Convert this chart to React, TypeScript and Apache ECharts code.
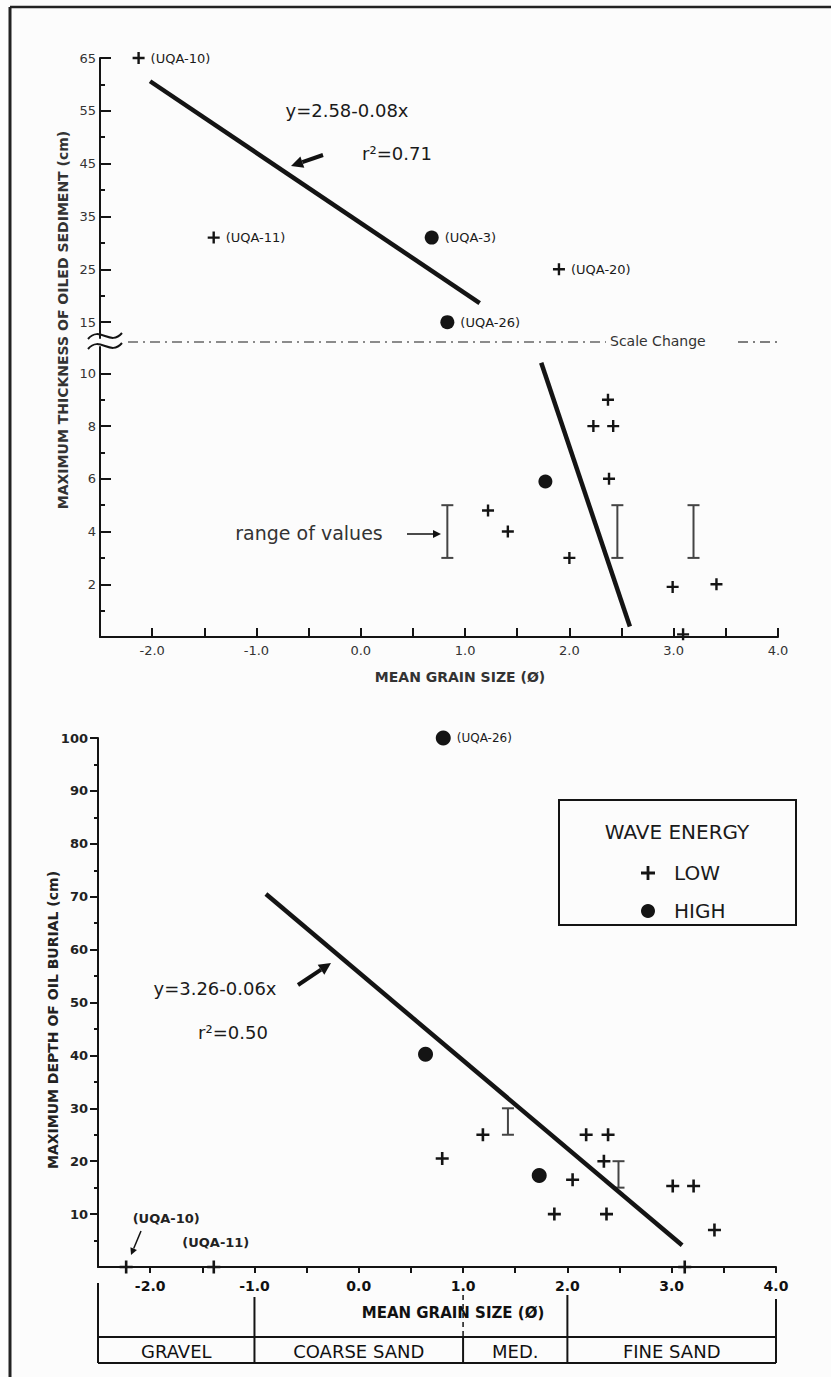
import React, { useEffect, useRef } from 'react';
import * as echarts from 'echarts';

// ---------------- DATA ----------------
// axis ticks / labels
const grainTicks = [-2, -1.5, -1, -0.5, 0, 0.5, 1, 1.5, 2, 2.5, 3, 3.5, 4];
const grainLabels = [-2, -1, 0, 1, 2, 3, 4];
const thickUpperTicks = [15, 25, 35, 45, 55, 65];
const thickUpperMinor = [20, 30, 40, 50, 60];
const thickLowerTicks = [2, 4, 6, 8, 10];
const thickLowerMinor = [1, 3, 5, 7, 9];
const burialTicks = [10, 20, 30, 40, 50, 60, 70, 80, 90, 100];
const burialMinor = [5, 15, 25, 35, 45, 55, 65, 75, 85, 95];

// Top panel: maximum thickness of oiled sediment (cm) — upper scale
const thickUpperLow = [[-2.13, 65], [-1.41, 31], [1.9, 25]];
const thickUpperLowTags = ['(UQA-10)', '(UQA-11)', '(UQA-20)'];
const thickUpperHigh = [[0.68, 31], [0.83, 15]];
const thickUpperHighTags = ['(UQA-3)', '(UQA-26)'];
const thickUpperFit = [[-2.02, 60.6], [1.14, 18.6]];

// Top panel — lower scale
const thickLowerLow = [
  [2.37, 9], [2.23, 8], [2.42, 8], [2.38, 6], [1.22, 4.8], [1.41, 4.0],
  [2.0, 3], [2.99, 1.9], [3.41, 2.0], [3.09, 0.1],
];
const thickLowerHigh = [[1.77, 5.9]];
const thickLowerRanges = [[0.83, 3, 5], [2.46, 3, 5], [3.19, 3, 5]];
const thickLowerFit = [[1.73, 10.4], [2.58, 0.4]];

// Bottom panel: maximum depth of oil burial (cm)
const burialLow = [
  [0.8, 20.5], [1.19, 25], [2.18, 25], [2.39, 25], [2.35, 20], [2.05, 16.5],
  [1.875, 10], [2.375, 10], [3.01, 15.3], [3.21, 15.3], [3.41, 7], [3.125, 0],
  [-2.23, 0], [-1.39, 0],
];
const burialLowTags = ['', '', '', '', '', '', '', '', '', '', '', '', '(UQA-10)', '(UQA-11)'];
const burialHigh = [[0.81, 100], [0.64, 40.2], [1.73, 17.3]];
const burialHighTags = ['(UQA-26)', '', ''];
const burialRanges = [[1.43, 25, 30], [2.49, 15, 20]];
const burialFit = [[-0.89, 70.5], [3.1, 4.1]];

// Grain-size classes
const sizeClassBounds = [-2.5, -1, 1, 2, 4];
const sizeClassNames = ['GRAVEL', 'COARSE SAND', 'MED.', 'FINE SAND'];

// ---------------- STYLE ----------------
const FONT = '"DejaVu Sans", sans-serif';
const INK = '#141414';
const GREY = '#333';
const PLUS = 'path://M4,0H6V4H10V6H6V10H4V6H0V4H4Z';

const items = (pts: number[][], tags?: string[]) =>
  pts.map((p, i) => ({ value: p, name: tags ? tags[i] : '' }));

const rangeRender = (_params: any, api: any) => {
  const x = api.value(0), lo = api.value(1), hi = api.value(2);
  const a = api.coord([x, lo]);
  const b = api.coord([x, hi]);
  const w = 6;
  const st = { stroke: '#444', lineWidth: 2 };
  return {
    type: 'group',
    children: [
      { type: 'line', shape: { x1: a[0], y1: a[1], x2: b[0], y2: b[1] }, style: st },
      { type: 'line', shape: { x1: a[0] - w, y1: a[1], x2: a[0] + w, y2: a[1] }, style: st },
      { type: 'line', shape: { x1: b[0] - w, y1: b[1], x2: b[0] + w, y2: b[1] }, style: st },
    ],
  };
};

const ptLabel = {
  show: true,
  position: 'right',
  distance: 6,
  formatter: '{b}',
  fontSize: 13,
  color: '#1a1a1a',
  fontFamily: FONT,
};

const markStyle = { color: INK, opacity: 1 };

function txt(x: number, y: number, text: string, size: number, extra: any = {}) {
  return {
    type: 'text',
    x,
    y,
    rotation: extra.rotation || 0,
    style: {
      text,
      fontSize: size,
      fontFamily: FONT,
      fontWeight: extra.weight || 'normal',
      fill: extra.fill || '#1a1a1a',
      align: extra.align || 'center',
      textAlign: extra.align || 'center',
      verticalAlign: 'middle',
      textVerticalAlign: 'middle',
    },
  };
}

function arrow(x1: number, y1: number, x2: number, y2: number, w: number, head: number) {
  const dx = x2 - x1, dy = y2 - y1;
  const L = Math.hypot(dx, dy);
  const ux = dx / L, uy = dy / L;
  const bx = x2 - ux * head, by = y2 - uy * head;
  const nx = -uy, ny = ux;
  const hw = head * 0.5;
  return [
    { type: 'line', shape: { x1, y1, x2: bx, y2: by }, style: { stroke: '#111', lineWidth: w } },
    {
      type: 'polygon',
      shape: { points: [[x2, y2], [bx + nx * hw, by + ny * hw], [bx - nx * hw, by - ny * hw]] },
      style: { fill: '#111' },
    },
  ];
}

function valueYAxis(grid: number, min: number, max: number, ticks: number[], opts: any) {
  return {
    type: 'value',
    gridIndex: grid,
    position: 'left',
    min,
    max,
    axisLine: { show: opts.line !== false, onZero: false, lineStyle: { color: INK, width: 2 } },
    axisTick: {
      show: true,
      inside: opts.inside,
      length: opts.len,
      customValues: ticks,
      lineStyle: { color: INK, width: 2 },
    },
    axisLabel: opts.labels
      ? {
          show: true,
          customValues: ticks,
          margin: opts.margin,
          fontSize: opts.fontSize,
          fontWeight: opts.weight || 'normal',
          color: opts.color || GREY,
          fontFamily: FONT,
        }
      : { show: false },
    splitLine: { show: false },
  };
}

function grainXAxis(grid: number, show: boolean, opts: any = {}) {
  return {
    type: 'value',
    gridIndex: grid,
    show,
    min: -2.5,
    max: 4,
    axisLine: { show: true, onZero: false, lineStyle: { color: INK, width: 2 } },
    axisTick: {
      show: true,
      inside: opts.inside,
      length: opts.len,
      customValues: grainTicks,
      lineStyle: { color: INK, width: 2 },
    },
    axisLabel: {
      customValues: grainLabels,
      formatter: (v: number) => v.toFixed(1),
      margin: opts.margin,
      fontSize: opts.fontSize,
      fontWeight: opts.weight || 'normal',
      color: opts.color || GREY,
      fontFamily: FONT,
    },
    splitLine: { show: false },
  };
}

export default function App() {
  const ref = useRef<HTMLDivElement>(null);

  useEffect(() => {
    if (!ref.current) return;
    const chart = echarts.init(ref.current, undefined, { renderer: 'svg' });

    const option: any = {
      animation: false,
      backgroundColor: '#fcfcfc',
      grid: [
        { left: 100, top: 58, width: 678, height: 280, outerBoundsMode: 'none' },
        { left: 100, top: 347, width: 678, height: 290, outerBoundsMode: 'none' },
        { left: 98, top: 738, width: 678, height: 529, outerBoundsMode: 'none' },
      ],
      xAxis: [
        grainXAxis(0, false),
        grainXAxis(1, true, { inside: true, len: 9, margin: 7, fontSize: 13 }),
        grainXAxis(2, true, { inside: false, len: 6, margin: 12, fontSize: 14, weight: 'bold', color: '#111' }),
      ],
      yAxis: [
        valueYAxis(0, 12, 65, thickUpperTicks, { inside: true, len: 11, labels: true, margin: 4, fontSize: 13 }),
        valueYAxis(0, 12, 65, thickUpperMinor, { inside: true, len: 5, line: false }),
        valueYAxis(1, 0, 11, thickLowerTicks, { inside: true, len: 11, labels: true, margin: 4, fontSize: 13 }),
        valueYAxis(1, 0, 11, thickLowerMinor, { inside: true, len: 5, line: false }),
        valueYAxis(2, 0, 100, burialTicks, { inside: false, len: 8, labels: true, margin: 10, fontSize: 13, weight: 'bold', color: '#222' }),
        valueYAxis(2, 0, 100, burialMinor, { inside: false, len: 4, line: false }),
      ],
      legend: {
        show: true,
        selectedMode: false,
        orient: 'vertical',
        left: 636,
        top: 858,
        itemWidth: 14,
        itemHeight: 14,
        itemGap: 18,
        data: [
          { name: 'LOW', icon: PLUS },
          { name: 'HIGH', icon: 'circle' },
        ],
        textStyle: { fontSize: 20, color: '#1a1a1a', fontFamily: FONT, padding: [0, 0, 0, 14] },
      },
      series: [
        // top panel, upper scale
        {
          name: 'LOW', type: 'scatter', xAxisIndex: 0, yAxisIndex: 0, clip: false,
          symbol: PLUS, symbolSize: 12, itemStyle: markStyle,
          data: items(thickUpperLow, thickUpperLowTags), label: ptLabel,
        },
        {
          name: 'HIGH', type: 'scatter', xAxisIndex: 0, yAxisIndex: 0, clip: false,
          symbol: 'circle', symbolSize: 14, itemStyle: markStyle,
          data: items(thickUpperHigh, thickUpperHighTags), label: ptLabel,
        },
        {
          name: 'fit-upper', type: 'line', xAxisIndex: 0, yAxisIndex: 0, symbol: 'none',
          lineStyle: { color: INK, width: 4.5 }, data: thickUpperFit,
        },
        // top panel, lower scale
        {
          name: 'LOW', type: 'scatter', xAxisIndex: 1, yAxisIndex: 2, clip: false,
          symbol: PLUS, symbolSize: 12, itemStyle: markStyle,
          data: items(thickLowerLow),
        },
        {
          name: 'HIGH', type: 'scatter', xAxisIndex: 1, yAxisIndex: 2, clip: false,
          symbol: 'circle', symbolSize: 14, itemStyle: markStyle,
          data: items(thickLowerHigh),
        },
        {
          name: 'range-top', type: 'custom', xAxisIndex: 1, yAxisIndex: 2, clip: false,
          renderItem: rangeRender, encode: { x: 0, y: [1, 2] }, data: thickLowerRanges,
        },
        {
          name: 'fit-lower', type: 'line', xAxisIndex: 1, yAxisIndex: 2, symbol: 'none',
          lineStyle: { color: INK, width: 4.5 }, data: thickLowerFit,
        },
        // bottom panel
        {
          name: 'LOW', type: 'scatter', xAxisIndex: 2, yAxisIndex: 4, clip: false,
          symbol: PLUS, symbolSize: 13, itemStyle: markStyle,
          data: burialLow.map((p, i) => {
            const tag = burialLowTags[i];
            const it: any = { value: p, name: tag };
            if (tag) {
              it.label = {
                show: true, position: 'top', formatter: '{b}',
                offset: tag === '(UQA-10)' ? [40, -31] : [2, -7],
                fontSize: 13, fontWeight: 'bold', color: '#222', fontFamily: FONT,
              };
            }
            return it;
          }),
        },
        {
          name: 'HIGH', type: 'scatter', xAxisIndex: 2, yAxisIndex: 4, clip: false,
          symbol: 'circle', symbolSize: 15, itemStyle: markStyle,
          data: items(burialHigh, burialHighTags), label: { ...ptLabel, fontSize: 12 },
        },
        {
          name: 'range-bottom', type: 'custom', xAxisIndex: 2, yAxisIndex: 4, clip: false,
          renderItem: rangeRender, encode: { x: 0, y: [1, 2] }, data: burialRanges,
        },
        {
          name: 'fit-burial', type: 'line', xAxisIndex: 2, yAxisIndex: 4, symbol: 'none',
          lineStyle: { color: INK, width: 4.5 }, data: burialFit,
        },
      ],
    };

    chart.setOption(option);

    // ---- graphics positioned from axis scales / fixed annotation layout ----
    const px = (v: number) => chart.convertToPixel({ xAxisIndex: 2 } as any, v) as number;
    const axisY = chart.convertToPixel({ yAxisIndex: 4 } as any, 0) as number;
    const rowTop = axisY + 70;
    const rowBot = axisY + 96;
    const startOff = [16, 30, 28, 28, 32];
    const g: any[] = [];

    // page frame
    g.push({ type: 'line', shape: { x1: 10, y1: 7, x2: 831, y2: 7 }, style: { stroke: '#222', lineWidth: 2.5 } });
    g.push({ type: 'line', shape: { x1: 10, y1: 7, x2: 10, y2: 1377 }, style: { stroke: '#222', lineWidth: 3 } });

    // grain-size class table
    const xL = px(sizeClassBounds[0]);
    const xR = px(sizeClassBounds[sizeClassBounds.length - 1]);
    g.push({ type: 'line', shape: { x1: xL, y1: rowTop, x2: xR, y2: rowTop }, style: { stroke: INK, lineWidth: 2 } });
    g.push({ type: 'line', shape: { x1: xL, y1: rowBot, x2: xR, y2: rowBot }, style: { stroke: INK, lineWidth: 2 } });
    sizeClassBounds.forEach((b, i) => {
      const x = px(b);
      if (i === 2) {
        g.push({ type: 'line', shape: { x1: x, y1: axisY + startOff[i], x2: x, y2: rowTop }, style: { stroke: INK, lineWidth: 1.5, lineDash: [5, 4] } });
        g.push({ type: 'line', shape: { x1: x, y1: rowTop, x2: x, y2: rowBot }, style: { stroke: INK, lineWidth: 2 } });
      } else {
        g.push({ type: 'line', shape: { x1: x, y1: axisY + startOff[i], x2: x, y2: rowBot }, style: { stroke: INK, lineWidth: 2 } });
      }
    });
    sizeClassNames.forEach((n, i) => {
      const cx = (px(sizeClassBounds[i]) + px(sizeClassBounds[i + 1])) / 2;
      g.push(txt(cx, (rowTop + rowBot) / 2 + 1, n, 18, { fill: '#111' }));
    });

    // axis titles
    g.push(txt(63, 320, 'MAXIMUM THICKNESS OF OILED SEDIMENT (cm)', 14, { rotation: Math.PI / 2, weight: 'bold', fill: '#333' }));
    g.push(txt(460, 677, 'MEAN GRAIN SIZE (Ø)', 14, { weight: 'bold', fill: '#333' }));
    g.push(txt(53, 1020, 'MAXIMUM DEPTH OF OIL BURIAL (cm)', 14, { rotation: Math.PI / 2, weight: 'bold', fill: '#222' }));
    g.push(txt(453, 1313, 'MEAN GRAIN SIZE (Ø)', 15, { weight: 'bold', fill: '#111' }));

    // top annotations
    g.push(txt(347, 110, 'y=2.58-0.08x', 18));
    g.push(txt(397, 153, 'r²=0.71', 18));
    g.push(...arrow(323, 155, 291, 166, 4, 12));
    g.push(txt(309, 533, 'range of values', 19, { fill: '#333' }));
    g.push(...arrow(407, 534, 441, 534, 1.5, 8));

    // scale break
    g.push({ type: 'bezierCurve', shape: { x1: 88, y1: 339, x2: 122, y2: 333, cpx1: 100, cpy1: 325, cpx2: 110, cpy2: 347 }, style: { stroke: INK, lineWidth: 2, fill: 'none' } });
    g.push({ type: 'bezierCurve', shape: { x1: 88, y1: 349, x2: 122, y2: 343, cpx1: 100, cpy1: 335, cpx2: 110, cpy2: 357 }, style: { stroke: INK, lineWidth: 2, fill: 'none' } });
    g.push({ type: 'line', shape: { x1: 128, y1: 342, x2: 606, y2: 342 }, style: { stroke: '#666', lineWidth: 1.5, lineDash: [10, 5, 2, 5] } });
    g.push(txt(610, 341, 'Scale Change', 14, { align: 'left', fill: '#333' }));
    g.push({ type: 'line', shape: { x1: 738, y1: 342, x2: 782, y2: 342 }, style: { stroke: '#555', lineWidth: 1.5, lineDash: [10, 5, 2, 5] } });

    // bottom annotations
    g.push(txt(215, 988, 'y=3.26-0.06x', 18));
    g.push(txt(233, 1032, 'r²=0.50', 18));
    g.push(...arrow(298, 985, 331, 963, 4, 12));
    g.push(...arrow(141, 1231, 131, 1255, 1.5, 7));

    // legend frame and title
    g.push({ type: 'rect', shape: { x: 559, y: 800, width: 237, height: 125 }, style: { fill: 'none', stroke: INK, lineWidth: 2 } });
    g.push(txt(677, 832, 'WAVE ENERGY', 20));

    chart.setOption({ graphic: g });

    return () => chart.dispose();
  }, []);

  return (
    <div
      ref={ref}
      style={{ position: 'absolute', left: 0, top: 0, width: 831, height: 1377 }}
    />
  );
}
